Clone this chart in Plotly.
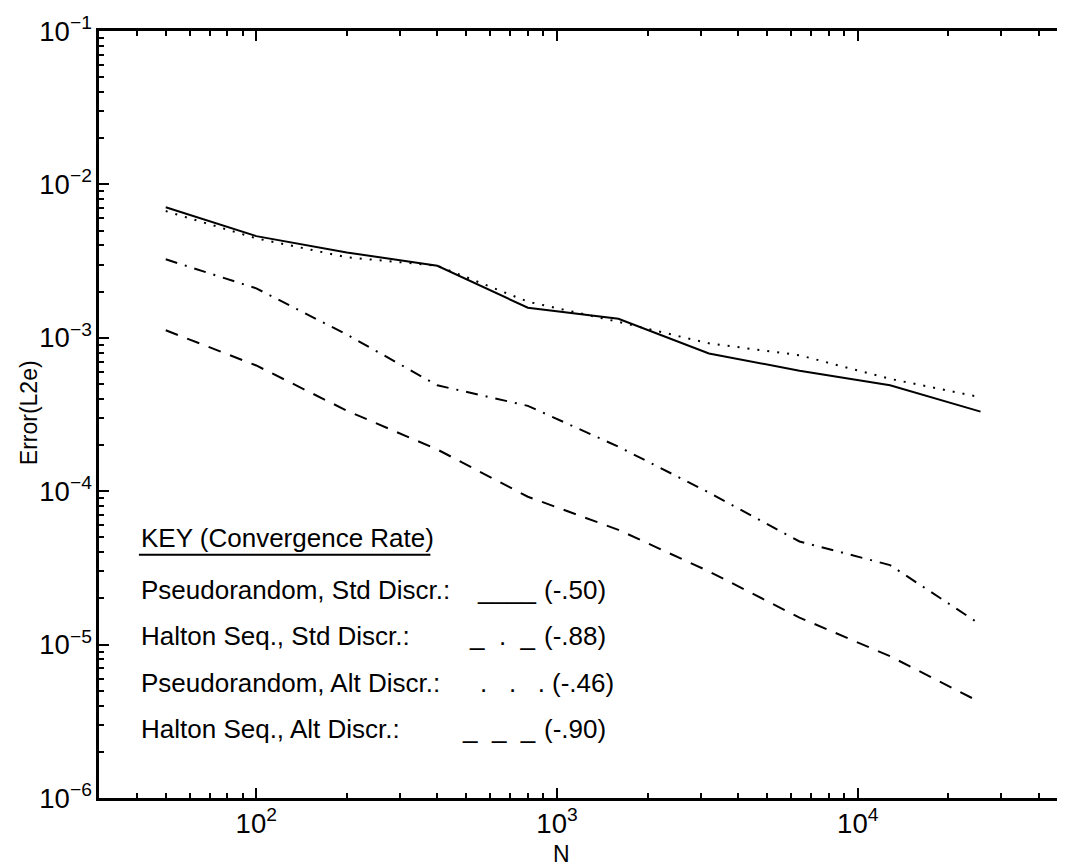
import plotly.graph_objects as go

# ---- data ----
N = [50, 100, 200, 400, 800, 1600, 3200, 6400, 12800, 25600]
pseudo_std = [7.1e-3, 4.6e-3, 3.6e-3, 2.95e-3, 1.57e-3, 1.33e-3, 7.9e-4, 6.1e-4, 4.9e-4, 3.3e-4]
halton_std = [3.25e-3, 2.1e-3, 1.05e-3, 4.9e-4, 3.6e-4, 1.95e-4, 9.8e-5, 4.7e-5, 3.3e-5, 1.35e-5]
pseudo_alt = [6.7e-3, 4.45e-3, 3.35e-3, 2.95e-3, 1.72e-3, 1.27e-3, 9.2e-4, 7.7e-4, 5.4e-4, 4.1e-4]
halton_alt = [1.12e-3, 6.6e-4, 3.35e-4, 1.87e-4, 9.2e-5, 5.6e-5, 3.0e-5, 1.5e-5, 8.4e-6, 4.2e-6]

key_title = "KEY (Convergence Rate)"
key_labels = ["Pseudorandom, Std Discr.:", "Halton Seq., Std Discr.:",
              "Pseudorandom, Alt Discr.:", "Halton Seq., Alt Discr.:"]
key_samples = ["____", "_\u00a0\u00a0.\u00a0\u00a0_",
               ".\u00a0\u00a0\u00a0.\u00a0\u00a0\u00a0.", "_\u00a0\u00a0_\u00a0\u00a0_"]
key_rates = ["(-.50)", "(-.88)", "(-.46)", "(-.90)"]

FONT = "Liberation Sans, Arial, Helvetica, sans-serif"

fig = go.Figure()
series = [
    (pseudo_std, "solid"),
    (halton_std, "12px,8px,2px,8px"),
    (pseudo_alt, "2px,8px"),
    (halton_alt, "13px,10px"),
]
for ys, dash in series:
    fig.add_trace(go.Scatter(x=N, y=ys, mode="lines",
                             line=dict(color="black", width=2, dash=dash),
                             showlegend=False, hoverinfo="skip"))

axis_common = dict(
    type="log", showgrid=False, zeroline=False,
    showline=True, linecolor="black", linewidth=2.5, mirror="allticks",
    ticks="inside", ticklen=10, tickwidth=2, tickcolor="black",
    dtick=1, exponentformat="power",
    minor=dict(ticks="inside", ticklen=5, tickwidth=1.5, tickcolor="black",
               dtick="D1", showgrid=False),
    tickfont=dict(family=FONT, size=22, color="black"),
)

fig.update_layout(
    width=1065, height=865,
    margin=dict(l=91, r=2, t=23, b=75),
    paper_bgcolor="white", plot_bgcolor="white",
    font=dict(family=FONT, color="black"),
    xaxis=dict(range=[1.4771, 4.699], **axis_common),
    yaxis=dict(range=[-6, -1], **axis_common),
)

ann = []
ann.append(dict(x=0.477, y=-0.073, xref="paper", yref="paper", text="N",
                showarrow=False, font=dict(size=23, family=FONT),
                xanchor="center", yanchor="middle"))
ann.append(dict(x=-0.072, y=0.502, xref="paper", yref="paper", text="Error(L2e)",
                showarrow=False, textangle=-90, font=dict(size=23, family=FONT),
                xanchor="center", yanchor="middle"))

x0 = 0.0412
FS = 26
ann.append(dict(x=x0, y=0.339, xref="paper", yref="paper", text=key_title,
                showarrow=False, font=dict(size=FS, family=FONT),
                xanchor="left", yanchor="middle"))
rows_y = [0.271, 0.211, 0.150, 0.090]
samp_right = [0.4527, 0.4527, 0.4620, 0.4527]
rate_x = [0.4568, 0.4568, 0.4650, 0.4568]
for lab, samp, rate, yy, sr, rx in zip(key_labels, key_samples, key_rates,
                                       rows_y, samp_right, rate_x):
    ann.append(dict(x=x0, y=yy, xref="paper", yref="paper", text=lab,
                    showarrow=False, font=dict(size=FS, family=FONT),
                    xanchor="left", yanchor="middle"))
    ann.append(dict(x=sr, y=yy, xref="paper", yref="paper", text=samp,
                    showarrow=False, font=dict(size=FS, family=FONT),
                    xanchor="right", yanchor="middle"))
    ann.append(dict(x=rx, y=yy, xref="paper", yref="paper", text=rate,
                    showarrow=False, font=dict(size=FS, family=FONT),
                    xanchor="left", yanchor="middle"))
fig.update_layout(annotations=ann)

fig.add_shape(type="line", xref="paper", yref="paper",
              x0=x0, x1=0.342, y0=0.317, y1=0.317,
              line=dict(color="black", width=2))

fig.write_html("out.html")
